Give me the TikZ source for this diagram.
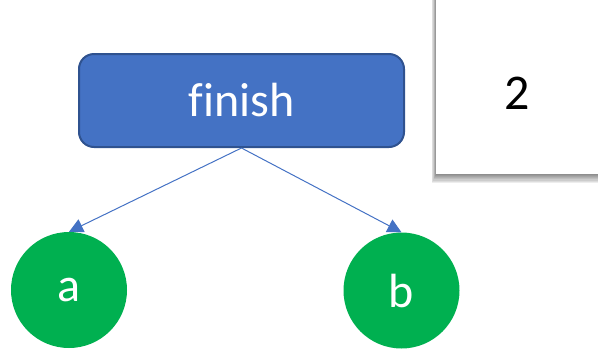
\documentclass[tikz,border=0pt]{standalone}
\usepackage{fontspec}
\setmainfont[Ligatures=NoCommon]{Carlito}
\usetikzlibrary{arrows.meta}
\definecolor{boxblue}{HTML}{4472C4}
\definecolor{boxedge}{HTML}{2F528F}
\definecolor{nodegreen}{HTML}{00B050}
\tikzset{
  finishbox/.style={draw=boxedge, line width=2pt, fill=boxblue, rounded corners=15pt,
    minimum width=325pt, minimum height=93pt, inner sep=0pt, text=white,
    font=\fontsize{48}{54}\selectfont},
  leaf/.style={circle, fill=nodegreen, minimum size=116pt, inner sep=0pt, text=white,
    font=\fontsize{48}{54}\selectfont},
  conn/.style={draw=boxblue, line width=1pt, -{Triangle[length=14pt,width=14pt]}},
  numtext/.style={font=\fontsize{50}{56}\selectfont, text=black}
}
\begin{document}
\begin{tikzpicture}[x=1pt,y=-1pt]
\useasboundingbox (0,0) rectangle (598,349);
% shadowed white panel
\foreach \r in {0,1,2,3,4,5,6,7}
  \fill[black, opacity=0.07] (436-\r*0.6,-10) rectangle (610,175+\r*1.1);
\fill[white] (436,-10) rectangle (610,173.5);
\node[numtext] (num) at (517,93) {2};
% nodes
\node[finishbox] (finish) at (241.5,100.5) {finish};
\node[leaf] (a) at (69,290) {a};
\node[leaf] (b) at (401.5,290.5) {b};
% connectors
\draw[conn] (finish.south) -- (a.north);
\draw[conn] (finish.south) -- (b.north);
\end{tikzpicture}
\end{document}
